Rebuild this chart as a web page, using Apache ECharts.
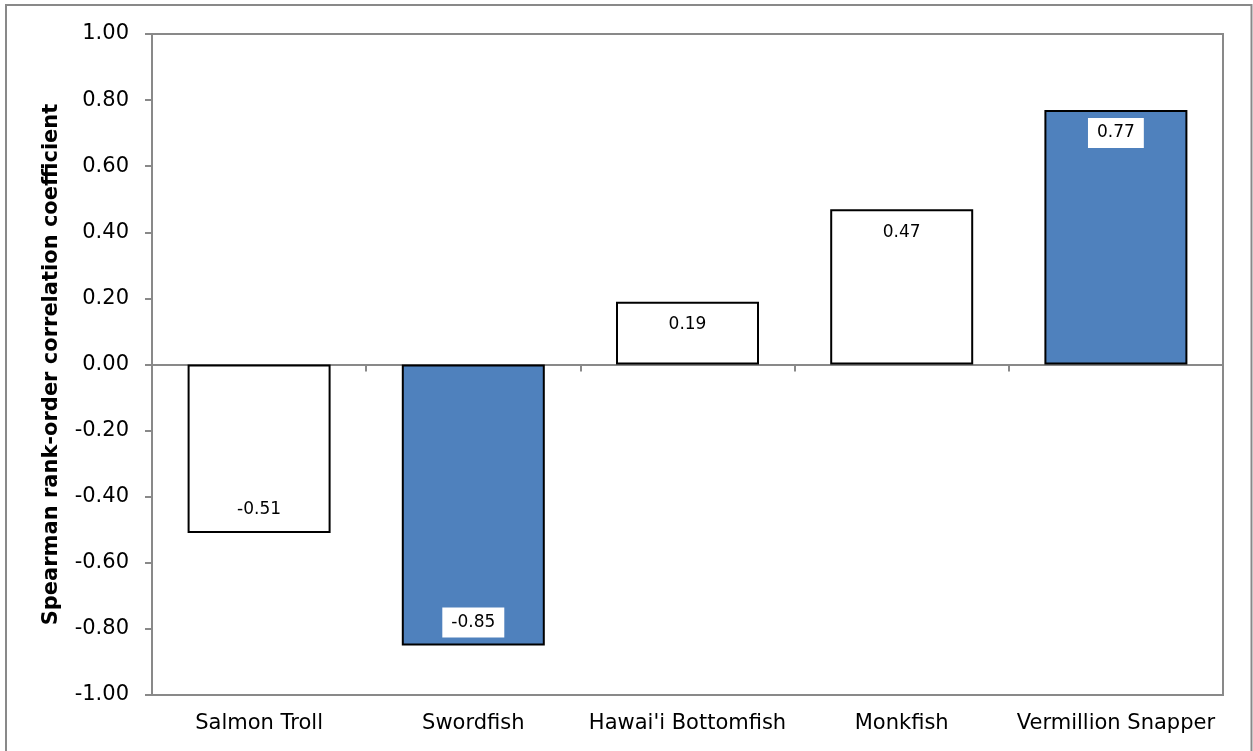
<!DOCTYPE html>
<html><head><meta charset="utf-8">
<script src="https://cdn.jsdelivr.net/npm/echarts@6/dist/echarts.min.js"></script>
<style>html,body{margin:0;padding:0;background:#fff}#c{width:1253px;height:751px}</style>
</head><body><div id="c"></div>
<script>
const categories = ['Salmon Troll', 'Swordfish', "Hawai'i Bottomfish", 'Monkfish', 'Vermillion Snapper'];
const values = [-0.51, -0.85, 0.19, 0.47, 0.77];
const yTicks = [-1, -0.8, -0.6, -0.4, -0.2, 0, 0.2, 0.4, 0.6, 0.8, 1];
const yAxisTitle = 'Spearman rank-order correlation coefficient';

const barFill = ['#ffffff', '#4f81bd', '#ffffff', '#ffffff', '#4f81bd'];
const font = 'DejaVu Sans, Verdana, sans-serif';
const gray = '#898989';

const chart = echarts.init(document.getElementById('c'));
chart.setOption({
  animation: false,
  backgroundColor: '#fff',
  textStyle: { fontFamily: font },
  graphic: [{
    type: 'rect', shape: { x: 6, y: 5, width: 1245.5, height: 780 },
    style: { fill: 'none', stroke: gray, lineWidth: 2 }, silent: true
  }],
  grid: { left: 152, right: 30, top: 34, bottom: 56, show: true, borderColor: gray, borderWidth: 2, backgroundColor: 'transparent' },
  xAxis: [{
    type: 'category', data: categories, position: 'bottom',
    axisLine: { show: false, onZero: false }, axisTick: { show: false },
    axisLabel: { color: '#000', fontSize: 21, fontFamily: font, margin: 18, interval: 0 }
  }, {
    type: 'category', data: categories, position: 'top',
    axisLine: { show: true, onZero: true, lineStyle: { color: gray, width: 2 } },
    axisTick: { show: true, inside: true, length: 7, lineStyle: { color: gray, width: 2 } },
    axisLabel: { show: false }
  }],
  yAxis: {
    type: 'value', min: -1, max: 1, interval: 0.2,
    name: yAxisTitle, nameLocation: 'middle', nameGap: 90,
    nameTextStyle: { color: '#000', fontSize: 21, fontWeight: 'bold', fontFamily: font },
    axisLine: { show: true, lineStyle: { color: gray, width: 2 } },
    axisTick: { show: true, length: 7, lineStyle: { color: gray, width: 2 } },
    splitLine: { show: false },
    axisLabel: { color: '#000', fontSize: 21, fontFamily: font, margin: 23,
      formatter: v => { const t = yTicks.find(x => Math.abs(x - v) < 1e-9); return (t === undefined ? v : t).toFixed(2); } }
  },
  series: [{
    type: 'bar', xAxisIndex: 1, barWidth: 143,
    data: values.map((v, i) => ({
      value: v,
      itemStyle: { color: barFill[i], borderColor: '#000', borderWidth: 2 },
      label: { position: v < 0 ? 'insideBottom' : 'insideTop' }
    })),
    label: {
      show: true, distance: 8, color: '#000', fontSize: 17, fontFamily: font,
      backgroundColor: '#fff', padding: [6, 9, 6, 9], lineHeight: 18,
      formatter: p => p.value.toFixed(2)
    }
  }]
});
</script></body></html>
